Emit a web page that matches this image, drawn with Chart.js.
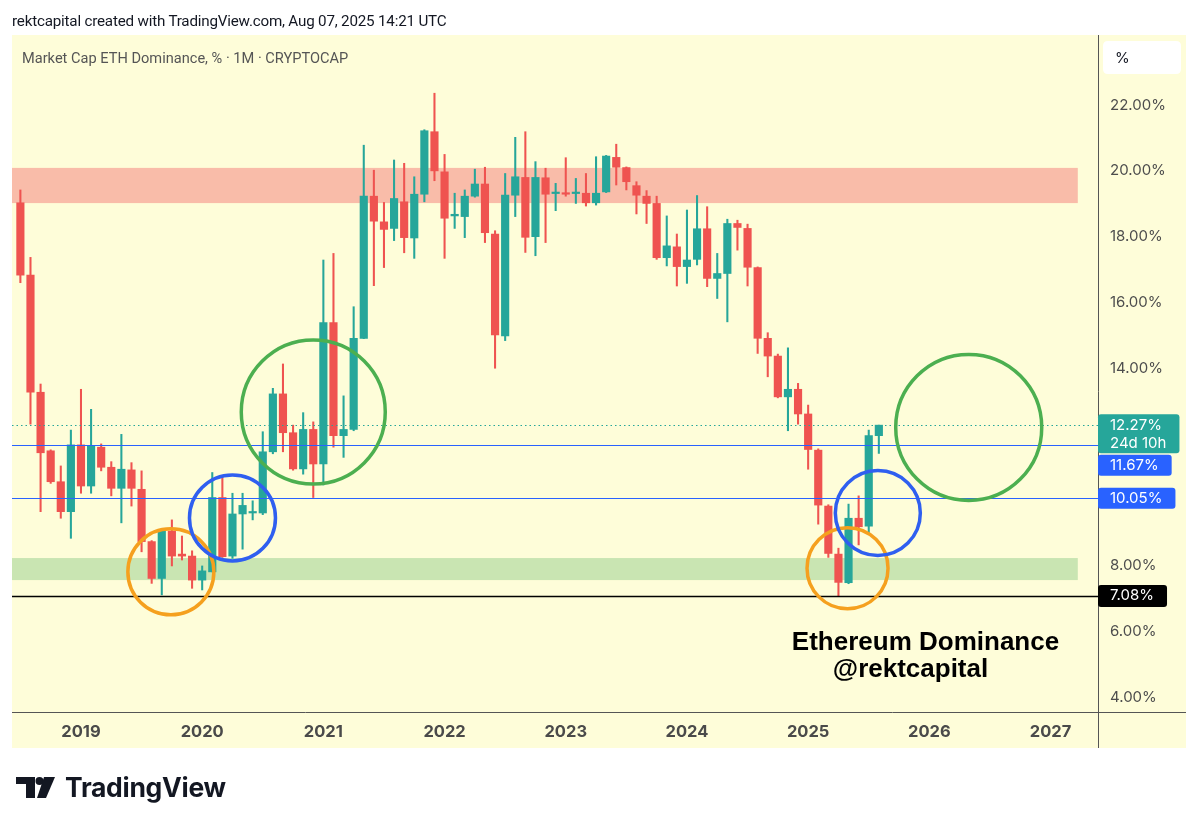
<!DOCTYPE html>
<html>
<head>
<meta charset="utf-8">
<script src="https://cdn.jsdelivr.net/npm/chart.js@4.4.1/dist/chart.umd.min.js"></script>
<style>
  html, body { margin: 0; padding: 0; background: #fff; }
  #wrap { position: relative; width: 1200px; height: 827px; overflow: hidden; }
  #header { position: absolute; left: 12px; top: 12px; font: 15.2px Roboto, sans-serif; color: #131722; white-space: nowrap; letter-spacing: -0.2px; }
  #footer { position: absolute; left: 16px; top: 772px; height: 32px; }
  #footer svg { position: absolute; left: 0; top: 5px; }
  #footer span { position: absolute; left: 49px; top: -1px; font: 700 26.5px Inter, sans-serif; color: #131722; letter-spacing: -0.3px; white-space: nowrap; }
  canvas { position: absolute; left: 0; top: 0; }
</style>
</head>
<body>
<div id="wrap">
  <canvas id="chart" width="1200" height="827"></canvas>
  <div id="header">rektcapital created with TradingView.com, Aug 07, 2025 14:21 UTC</div>
  <div id="footer">
    <svg width="40" height="21" viewBox="0 0 40 21">
      <path d="M0 0H19V7H19V21H10V7H0Z" fill="#131722"/>
      <circle cx="23.5" cy="4" r="4" fill="#131722"/>
      <path d="M28 0H39L30 21H21Z" fill="#131722"/>
    </svg>
    <span>TradingView</span>
  </div>
</div>
<script>
// monthly candles, Jul 2018 .. Aug 2025
const opens = [19.03, 16.83, 13.27, 11.49, 10.55, 9.64, 11.67, 10.42, 11.60, 10.99, 10.35, 10.91,
  10.32, 8.73, 7.61, 9.05, 8.35, 8.29, 7.56, 7.81, 10.07, 8.29, 9.57, 9.60,
  9.60, 11.46, 13.22, 12.04, 10.94, 12.14, 11.09, 15.39, 11.95, 12.14, 14.91, 19.23,
  18.45, 18.25, 19.06, 17.96, 19.29, 21.19, 19.97, 18.63, 18.61, 19.23, 19.60, 18.08,
  14.98, 19.26, 19.80, 18.00, 19.79, 19.31, 19.33, 19.31, 19.32, 19.03, 19.36, 20.41,
  20.10, 19.55, 19.23, 19.01, 17.36, 17.69, 17.09, 17.31, 18.24, 16.73, 16.88, 18.40,
  18.25, 17.06, 14.91, 14.37, 13.13, 13.36, 12.61, 11.51, 9.81, 8.35, 7.48, 9.44,
  9.20, 11.95];
const highs = [19.42, 17.37, 13.52, 11.52, 11.03, 12.12, 13.36, 12.75, 11.70, 11.16, 11.99, 11.13,
  10.88, 8.76, 9.12, 9.39, 8.90, 8.45, 7.99, 10.83, 10.69, 10.20, 10.20, 9.97,
  12.07, 13.39, 14.13, 12.27, 12.65, 12.37, 17.29, 17.49, 13.16, 15.87, 20.78, 20.02,
  19.04, 20.33, 20.23, 19.82, 21.25, 22.36, 20.50, 19.32, 19.42, 20.05, 20.11, 18.18,
  19.92, 21.02, 21.19, 20.28, 20.08, 19.62, 20.40, 19.77, 19.92, 20.43, 20.47, 20.81,
  20.12, 19.67, 19.40, 19.23, 18.63, 18.08, 18.81, 19.25, 18.91, 17.49, 18.53, 18.50,
  18.38, 17.08, 15.08, 14.43, 14.62, 13.54, 12.88, 11.55, 9.85, 8.53, 9.87, 10.12,
  12.12, 12.27];
const lows = [16.60, 12.30, 9.64, 10.50, 9.44, 8.83, 10.20, 10.20, 10.88, 10.12, 9.30, 9.81,
  8.42, 7.46, 7.11, 7.99, 8.17, 7.31, 7.26, 7.81, 8.25, 8.22, 8.50, 9.39,
  9.55, 11.40, 11.46, 10.90, 10.78, 10.07, 10.45, 11.60, 11.29, 12.10, 14.90, 16.51,
  17.06, 17.88, 17.51, 17.34, 19.06, 19.70, 17.34, 18.25, 17.97, 19.20, 17.82, 14.00,
  14.84, 18.61, 17.52, 17.42, 17.82, 18.79, 19.23, 19.01, 18.93, 18.96, 19.34, 19.57,
  19.42, 18.69, 18.40, 17.31, 17.11, 16.50, 16.58, 17.14, 16.48, 16.12, 15.41, 17.59,
  16.50, 14.45, 13.74, 13.10, 12.10, 12.30, 10.93, 9.26, 8.25, 7.08, 7.45, 8.63,
  9.00, 11.41];
const closes = [16.83, 13.27, 11.43, 10.55, 9.64, 11.67, 10.42, 11.64, 10.99, 10.35, 10.93, 10.35,
  8.73, 7.61, 9.08, 8.29, 8.29, 7.56, 7.84, 10.07, 8.27, 9.57, 9.83, 9.64,
  11.46, 13.22, 12.04, 10.94, 12.14, 11.09, 15.39, 11.95, 12.14, 14.91, 19.23, 18.47,
  18.22, 19.16, 17.97, 19.29, 21.22, 20.00, 18.56, 18.68, 19.23, 19.60, 18.12, 15.01,
  19.26, 19.82, 17.98, 19.80, 19.29, 19.35, 19.29, 19.35, 19.03, 19.32, 20.45, 20.11,
  19.67, 19.26, 19.01, 17.36, 17.72, 17.09, 17.29, 18.24, 16.73, 16.88, 18.40, 18.28,
  17.07, 14.91, 14.37, 13.13, 13.36, 12.61, 11.53, 9.84, 8.37, 7.49, 9.44, 9.18,
  11.95, 12.27];

const firstMonthOffset = -6;          // Jul 2018, counted in months from Jan 2019
const yearLabels = ['2019', '2020', '2021', '2022', '2023', '2024', '2025', '2026', '2027'];
const yTickValues = [22, 20, 18, 16, 14, 8, 6, 4];

const resistanceZone = [19.02, 20.09];
const supportZone = [7.56, 8.23];
const zoneEnd = 98.7;                  // months from Jan 2019
const blueLevels = [11.67, 10.05];
const lowLevel = 7.08;
const countdown = '24d 10h';

// drawn circles: centre in months from Jan 2019 and in %
const circleMarks = [
  { kind: 'orange', m: 8.9, v: 7.81, r: 43 },
  { kind: 'blue', m: 15.0, v: 9.45, r: 43 },
  { kind: 'green', m: 23.0, v: 12.67, r: 72 },
  { kind: 'orange', m: 75.9, v: 7.92, r: 40.5 },
  { kind: 'blue', m: 78.9, v: 9.6, r: 42.5 },
  { kind: 'green', m: 87.9, v: 12.2, r: 73 }
];

const UP = '#26a69a', DOWN = '#ef5350';
const circleColors = { orange: '#f5a01e', blue: '#2f5ff0', green: '#4caf50' };
const FONT = 'Inter, "Noto Sans", sans-serif';

const candleColors = opens.map((o, i) => closes[i] >= o ? UP : DOWN);
const bodyData = opens.map((o, i) => ({ x: i + firstMonthOffset, y: [o, closes[i]] }));
const wickData = lows.map((l, i) => ({ x: i + firstMonthOffset, y: [l, highs[i]] }));

const lastClose = closes[closes.length - 1];

function roundRect(ctx, x, y, w, h, r) {
  ctx.beginPath();
  ctx.moveTo(x + r, y);
  ctx.lineTo(x + w - r, y);
  ctx.quadraticCurveTo(x + w, y, x + w, y + r);
  ctx.lineTo(x + w, y + h - r);
  ctx.quadraticCurveTo(x + w, y + h, x + w - r, y + h);
  ctx.lineTo(x + r, y + h);
  ctx.quadraticCurveTo(x, y + h, x, y + h - r);
  ctx.lineTo(x, y + r);
  ctx.quadraticCurveTo(x, y, x + r, y);
  ctx.closePath();
}

const decorations = {
  id: 'decorations',
  beforeDraw(chart) {
    const { ctx, chartArea: a, scales: { x, y } } = chart;
    ctx.save();
    ctx.fillStyle = '#fefdd9';
    ctx.fillRect(a.left, a.top, y.right - a.left, x.bottom - a.top);
    ctx.restore();
  },
  beforeDatasetsDraw(chart) {
    const { ctx, chartArea: a, scales: { x, y } } = chart;
    ctx.save();
    const xe = x.getPixelForValue(zoneEnd);
    ctx.fillStyle = '#f9bca9';
    ctx.fillRect(a.left, y.getPixelForValue(resistanceZone[1]), xe - a.left,
      y.getPixelForValue(resistanceZone[0]) - y.getPixelForValue(resistanceZone[1]));
    ctx.fillStyle = '#c9e5b2';
    ctx.fillRect(a.left, y.getPixelForValue(supportZone[1]), xe - a.left,
      y.getPixelForValue(supportZone[0]) - y.getPixelForValue(supportZone[1]));
    ctx.restore();
  },
  afterDatasetsDraw(chart) {
    const { ctx, chartArea: a, scales: { x, y } } = chart;
    ctx.save();
    // horizontal levels
    ctx.lineWidth = 1.2;
    ctx.strokeStyle = '#2962ff';
    blueLevels.forEach(v => {
      const py = Math.round(y.getPixelForValue(v)) + 0.5;
      ctx.beginPath(); ctx.moveTo(a.left, py); ctx.lineTo(a.right, py); ctx.stroke();
    });
    ctx.strokeStyle = '#000';
    ctx.lineWidth = 1.5;
    let py = Math.round(y.getPixelForValue(lowLevel)) + 0.5;
    ctx.beginPath(); ctx.moveTo(a.left, py); ctx.lineTo(a.right, py); ctx.stroke();
    ctx.lineWidth = 1.2;
    ctx.strokeStyle = UP;
    ctx.setLineDash([1.5, 3]);
    py = Math.round(y.getPixelForValue(lastClose)) + 0.5;
    ctx.beginPath(); ctx.moveTo(a.left, py); ctx.lineTo(a.right, py); ctx.stroke();
    ctx.setLineDash([]);

    // circles
    ctx.lineWidth = 3.5;
    circleMarks.forEach(c => {
      ctx.strokeStyle = circleColors[c.kind];
      ctx.beginPath();
      ctx.arc(x.getPixelForValue(c.m), y.getPixelForValue(c.v), c.r, 0, Math.PI * 2);
      ctx.stroke();
    });

    // annotation text
    ctx.fillStyle = '#000';
    ctx.textAlign = 'center';
    ctx.textBaseline = 'alphabetic';
    ctx.font = 'bold 26px "Liberation Sans", Arial, sans-serif';
    ctx.fillText('Ethereum Dominance', 925.5, 650);
    ctx.fillText('@rektcapital', 910.5, 677);

    // title
    ctx.textAlign = 'left';
    ctx.textBaseline = 'middle';
    ctx.fillStyle = '#555';
    ctx.font = '14.6px Roboto, sans-serif';
    ctx.fillText('Market Cap ETH Dominance, % \u00b7 1M \u00b7 CRYPTOCAP', a.left + 10, a.top + 24);
    ctx.restore();
  },
  afterDraw(chart) {
    const { ctx, chartArea: a, scales: { x, y } } = chart;
    ctx.save();
    // axis borders
    ctx.strokeStyle = '#555';
    ctx.lineWidth = 1;
    ctx.beginPath();
    ctx.moveTo(a.right + 0.5, a.top);
    ctx.lineTo(a.right + 0.5, x.bottom);
    ctx.moveTo(a.left, a.bottom + 0.5);
    ctx.lineTo(y.right, a.bottom + 0.5);
    ctx.stroke();

    // unit box
    ctx.fillStyle = '#fff';
    roundRect(ctx, a.right + 5, a.top + 6, 78, 33, 5);
    ctx.fill();
    ctx.fillStyle = '#131722';
    ctx.font = '15px ' + FONT;
    ctx.textAlign = 'left';
    ctx.textBaseline = 'middle';
    ctx.fillText('%', a.right + 17, a.top + 23);

    // price tags
    const tags = [
      { v: lastClose, lines: [lastClose.toFixed(2) + '%', countdown], bg: UP, h: 39, offset: 11 },
      { v: blueLevels[0], lines: [blueLevels[0].toFixed(2) + '%'], bg: '#2962ff', h: 21, offset: 10.5 },
      { v: blueLevels[1], lines: [blueLevels[1].toFixed(2) + '%'], bg: '#2962ff', h: 21, offset: 10.5 },
      { v: lowLevel, lines: [lowLevel.toFixed(2) + '%'], bg: '#000', h: 22, offset: 11 }
    ];
    let prevBottom = -Infinity;
    tags.forEach(t => {
      const w = Math.max(...t.lines.map(s => ctx.measureText(s).width)) + 25;
      let top = Math.max(y.getPixelForValue(t.v) - t.offset, prevBottom + 1.5);
      prevBottom = top + t.h;
      ctx.fillStyle = t.bg;
      roundRect(ctx, a.right, top, w, t.h, 3);
      ctx.fill();
      ctx.fillStyle = '#fff';
      t.lines.forEach((s, k) => ctx.fillText(s, a.right + 12, top + 11 + k * 18));
    });
    ctx.restore();
  }
};

new Chart(document.getElementById('chart'), {
  type: 'bar',
  data: {
    datasets: [{
      data: bodyData,
      backgroundColor: candleColors,
      barThickness: 7.5,
      minBarLength: 1.5,
      grouped: false
    }, {
      data: wickData,
      backgroundColor: candleColors,
      barThickness: 1.4,
      grouped: false
    }]
  },
  options: {
    responsive: false,
    animation: false,
    layout: { padding: { left: 12, top: 35, right: 14, bottom: 79 } },
    plugins: { legend: { display: false }, tooltip: { enabled: false } },
    scales: {
      x: {
        type: 'linear',
        offset: false,
        min: -6.83,
        max: 100.7,
        grid: { display: false, drawTicks: false, offset: false },
        border: { display: false },
        afterBuildTicks: s => { s.ticks = yearLabels.map((l, i) => ({ value: i * 12 })); },
        afterFit: s => { s.height = 36; },
        ticks: {
          autoSkip: false, maxRotation: 0, padding: 10,
          color: '#4a4a4a',
          font: { size: 16.5, weight: 'bold', family: FONT },
          callback: (v, i) => yearLabels[i]
        }
      },
      y: {
        position: 'right',
        min: 3.55,
        max: 24.13,
        grid: { display: false, drawTicks: false },
        border: { display: false },
        afterBuildTicks: s => { s.ticks = yTickValues.map(v => ({ value: v })); },
        afterFit: s => { s.width = 88; },
        ticks: {
          padding: 12,
          color: '#4d4d4d',
          font: { size: 15, family: FONT },
          callback: v => v.toFixed(2) + '%'
        }
      }
    }
  },
  plugins: [decorations]
});
</script>
</body>
</html>
